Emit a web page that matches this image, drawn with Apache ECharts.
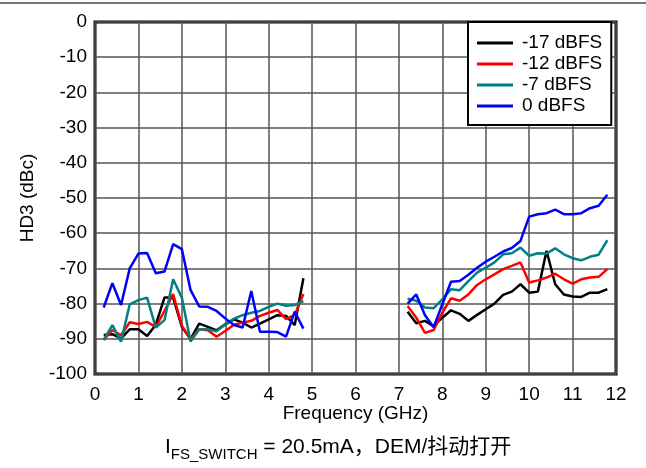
<!DOCTYPE html>
<html>
<head>
<meta charset="utf-8">
<script src="https://cdn.jsdelivr.net/npm/echarts@6/dist/echarts.min.js"></script>
<style>
  html, body { margin: 0; padding: 0; background: #fff; }
  #chart { width: 646px; height: 468px; }
</style>
</head>
<body>
<div id="chart"></div>
<script>
// frequency points (GHz): low band and high band
const freqLow = [0.2, 0.4, 0.6, 0.8, 1.0, 1.2, 1.4, 1.6, 1.8, 2.0, 2.2, 2.4,
                 2.6, 2.8, 3.0, 3.2, 3.4, 3.6, 3.8, 4.0, 4.2, 4.4, 4.6, 4.8];
const freqHigh = [7.2, 7.4, 7.6, 7.8, 8.0, 8.2, 8.4, 8.6, 8.8, 9.0, 9.2, 9.4,
                  9.6, 9.8, 10.0, 10.2, 10.4, 10.6, 10.8, 11.0, 11.2, 11.4, 11.6, 11.8];

// HD3 (dBc)
const m17Low = [-88.9, -88.7, -89.9, -87.3, -87.3, -89.2, -86.0, -78.3, -78.3, -86.6, -90.1, -85.7,
                -86.6, -87.6, -85.9, -84.5, -85.4, -86.8, -85.7, -84.5, -83.3, -83.5, -86.1, -72.8];
const m17High = [-82.3, -85.6, -84.9, -86.4, -84.0, -81.9, -82.9, -84.9, -83.2, -81.6, -80.0, -77.5,
                 -76.6, -74.5, -76.9, -76.6, -65.0, -74.5, -77.4, -78.0, -78.1, -76.9, -76.9, -75.9];

const m12Low = [-90.3, -87.5, -89.0, -85.3, -85.8, -85.2, -86.6, -82.1, -77.3, -86.3, -90.1, -87.3,
                -87.6, -89.4, -87.8, -86.0, -85.4, -84.9, -83.5, -82.6, -81.8, -84.4, -83.2, -77.3];
const m12High = [-80.7, -84.0, -88.3, -87.5, -82.6, -78.5, -79.2, -77.4, -74.7, -73.1, -71.7, -70.2,
                 -69.3, -68.3, -74.0, -73.4, -72.6, -71.5, -73.1, -74.3, -73.1, -72.6, -72.4, -70.2];

const m7Low = [-90.3, -86.1, -90.8, -80.2, -79.0, -78.3, -86.8, -84.7, -73.1, -78.3, -90.8, -87.3,
               -87.3, -87.9, -85.8, -84.3, -83.3, -82.6, -82.1, -80.9, -80.0, -80.6, -80.4, -79.3];
const m7High = [-78.6, -79.2, -81.1, -81.3, -78.8, -75.9, -76.2, -73.6, -71.2, -69.8, -68.3, -66.0,
                -65.7, -64.1, -66.4, -65.7, -65.8, -64.3, -66.0, -67.1, -67.7, -66.7, -66.1, -62.0];

const m0Low = [-81.1, -74.2, -80.4, -70.0, -65.8, -65.6, -71.4, -70.9, -63.1, -64.5, -76.1, -80.8,
               -80.9, -82.1, -84.2, -86.1, -86.8, -76.4, -88.0, -88.0, -88.1, -89.4, -82.3, -87.1];
const m0High = [-80.0, -77.4, -83.3, -86.7, -80.2, -73.8, -73.6, -71.8, -69.8, -68.1, -66.7, -65.2,
                -64.2, -62.2, -55.3, -54.6, -54.3, -53.3, -54.6, -54.6, -54.3, -52.9, -52.2, -49.1];

const seriesNames = ['-17 dBFS', '-12 dBFS', '-7 dBFS', '0 dBFS'];
const seriesColors = ['#000000', '#ff0000', '#008080', '#0000ff'];
const seriesLow = [m17Low, m12Low, m7Low, m0Low];
const seriesHigh = [m17High, m12High, m7High, m0High];

const FONT = 'Liberation Sans, Arial, "Noto Sans CJK SC", sans-serif';

function buildData(low, high) {
    const out = freqLow.map((f, i) => [f, low[i]]);
    out.push([6, null]);   // gap between the two bands
    return out.concat(freqHigh.map((f, i) => [f, high[i]]));
}

const chart = echarts.init(document.getElementById('chart'));

chart.setOption({
    backgroundColor: '#fff',
    animation: false,
    grid: {
        left: 95, right: 30, top: 22, bottom: 94,
        show: true,
        borderColor: '#000',
        borderWidth: 3
    },
    legend: {
        orient: 'vertical',
        left: 468, top: 22,
        padding: [11, 9, 9, 9],
        itemGap: 1,
        itemWidth: 36,
        itemHeight: 14,
        symbolKeepAspect: true,
        backgroundColor: '#fff',
        borderColor: '#000',
        borderWidth: 2,
        borderRadius: 0,
        textStyle: { fontFamily: FONT, fontSize: 19, lineHeight: 20, color: '#000', padding: [0, 0, 0, 4] },
        // thin bar icon, like a line sample
        data: seriesNames.map(n => ({ name: n, icon: 'path://M0,0 L36,0 L36,3 L0,3 Z' }))
    },
    xAxis: {
        type: 'value',
        min: 0, max: 12, interval: 1,
        name: 'Frequency (GHz)',
        nameLocation: 'middle',
        nameGap: 30,
        nameMoveOverlap: false,
        nameTextStyle: { fontFamily: FONT, fontSize: 19, color: '#000' },
        axisLine: { show: false },
        axisTick: { show: false },
        axisLabel: { fontFamily: FONT, fontSize: 19, color: '#000', margin: 11 },
        splitLine: { lineStyle: { color: '#555', width: 1.5 } }
    },
    yAxis: {
        type: 'value',
        min: -100, max: 0, interval: 10,
        name: 'HD3 (dBc)',
        nameLocation: 'middle',
        nameGap: 58,
        nameMoveOverlap: false,
        nameTextStyle: { fontFamily: FONT, fontSize: 19, color: '#000' },
        axisLine: { show: false },
        axisTick: { show: false },
        axisLabel: { fontFamily: FONT, fontSize: 19, color: '#000', margin: 8 },
        splitLine: { lineStyle: { color: '#555', width: 1.5 } }
    },
    series: seriesNames.map((name, k) => ({
        name: name,
        type: 'line',
        data: buildData(seriesLow[k], seriesHigh[k]),
        showSymbol: false,
        symbol: 'none',
        connectNulls: false,
        color: seriesColors[k],
        lineStyle: { color: seriesColors[k], width: 2.5 },
        z: 3 + k
    })),
    graphic: [
        {
            type: 'line',
            shape: { x1: 0, y1: 3, x2: 646, y2: 3 },
            style: { stroke: '#777', lineWidth: 2 }
        },
        {
            type: 'text',
            left: 165,
            top: 437,
            style: {
                text: '{a|I}{s|FS_SWITCH}{a| = 20.5mA，DEM/抖动打开}',
                rich: {
                    a: { fontFamily: FONT, fontSize: 21, fill: '#000', verticalAlign: 'bottom', lineHeight: 26 },
                    s: { fontFamily: FONT, fontSize: 15, fill: '#000', verticalAlign: 'bottom', lineHeight: 26, padding: [0, 0, -4, 0] }
                }
            }
        }
    ]
});
</script>
</body>
</html>
